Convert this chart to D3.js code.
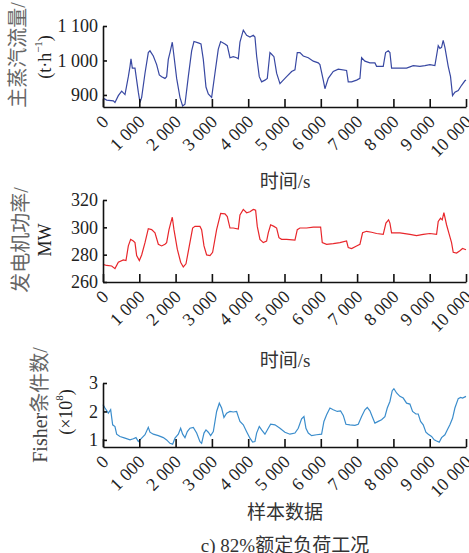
<!DOCTYPE html>
<html>
<head>
<meta charset="utf-8">
<script src="https://cdn.jsdelivr.net/npm/d3@7"></script>
<style>
  body { margin: 0; background: #fff; }
  svg text { font-family: "Liberation Serif", "Noto Sans CJK SC", serif; }
  .axis path, .axis line { stroke: #111; stroke-width: 1.6; }
  .axis text { font-size: 18px; fill: #222; }
</style>
</head>
<body>
<div id="chart-area"></div>
<script>
// time (s) / sample index -> value
const steamFlow = [[0,891],[101,885],[285,883],[330,878],[422,898],[514,911],[606,901],[698,953],[744,983],[771,1005],[808,978],[881,978],[927,943],[973,908],[1019,878],[1065,893],[1157,963],[1248,1023],[1294,1028],[1386,1013],[1478,988],[1551,958],[1616,953],[1707,948],[1753,953],[1799,1003],[1845,1023],[1909,1053],[1955,1013],[2029,948],[2120,893],[2194,868],[2258,873],[2350,953],[2442,1028],[2506,1055],[2625,1051],[2699,1048],[2763,1003],[2837,923],[2901,903],[2993,893],[3084,963],[3176,1033],[3241,1055],[3360,1048],[3424,1043],[3498,1008],[3589,1011],[3681,1008],[3727,1005],[3773,1053],[3865,1088],[3957,1073],[4048,1068],[4140,1073],[4186,1068],[4232,1013],[4305,953],[4370,938],[4461,943],[4526,948],[4599,1023],[4645,1018],[4709,1011],[4783,963],[4875,933],[4966,943],[5058,953],[5196,968],[5288,973],[5352,1023],[5425,1023],[5517,1013],[5655,1008],[5793,998],[5930,993],[5976,988],[6068,943],[6114,918],[6206,948],[6343,968],[6481,975],[6710,971],[6756,938],[6848,938],[6986,943],[7078,948],[7124,1008],[7215,998],[7353,993],[7491,993],[7537,983],[7720,983],[7785,1023],[7858,1028],[7904,1023],[7950,978],[8179,978],[8363,978],[8547,985],[8730,983],[8868,985],[9006,988],[9143,985],[9235,1043],[9281,1035],[9327,1038],[9372,1058],[9419,1038],[9510,983],[9574,953],[9629,898],[9694,908],[9786,913],[9878,928],[9969,941],[10000,943]]

const genPower = [[0,272.9],[101,272.1],[239,271.7],[330,269.8],[422,274.5],[560,276.2],[633,275.7],[698,286.4],[762,291.2],[835,290.0],[881,288.8],[927,279.3],[1001,275.7],[1065,279.8],[1157,288.8],[1248,299.0],[1340,298.3],[1432,296.0],[1524,287.6],[1616,286.4],[1707,287.6],[1753,288.8],[1818,298.3],[1864,303.1],[1909,307.4],[1955,298.3],[2047,284.0],[2139,274.5],[2212,271.0],[2286,273.3],[2378,286.4],[2469,299.5],[2534,300.7],[2671,300.7],[2717,298.3],[2782,286.4],[2855,279.8],[2947,279.3],[3020,281.7],[3130,298.3],[3241,310.2],[3360,309.8],[3424,307.9],[3498,299.5],[3589,299.5],[3727,298.8],[3773,309.0],[3865,313.1],[3957,310.7],[4048,311.4],[4140,313.1],[4204,312.6],[4250,300.7],[4324,291.2],[4416,288.8],[4507,290.0],[4553,296.0],[4618,301.9],[4709,300.7],[4783,299.5],[4847,292.4],[4920,291.2],[5058,291.2],[5288,290.7],[5352,298.3],[5425,299.5],[5609,299.5],[5793,300.2],[5995,300.2],[6040,288.8],[6160,287.6],[6343,288.1],[6527,288.8],[6710,290.0],[6756,285.2],[6848,284.5],[6986,286.4],[7078,287.6],[7151,296.0],[7261,297.1],[7399,296.4],[7537,295.5],[7720,294.8],[7794,303.1],[7867,305.5],[7904,303.1],[7950,296.0],[8179,296.0],[8455,294.8],[8638,294.0],[8822,294.8],[9006,295.5],[9189,294.8],[9235,304.3],[9299,306.7],[9345,305.5],[9391,310.7],[9464,301.9],[9538,294.8],[9602,288.8],[9648,281.7],[9740,281.2],[9832,282.9],[9905,284.5],[10000,283.6]]

const fisherCond = [[0,2.24],[55,2.12],[147,1.94],[211,2.06],[266,1.53],[330,1.47],[376,1.20],[468,1.12],[606,1.06],[744,1.00],[835,1.04],[909,1.08],[973,0.94],[1065,1.06],[1157,1.18],[1248,1.44],[1294,1.27],[1386,1.20],[1524,1.15],[1662,1.08],[1753,1.00],[1845,0.88],[1919,0.85],[1983,1.06],[2075,1.20],[2139,1.41],[2194,1.20],[2258,1.08],[2323,1.29],[2396,1.41],[2488,1.44],[2580,1.24],[2671,0.94],[2717,0.88],[2782,1.24],[2837,1.35],[2901,1.27],[2965,1.15],[3039,1.29],[3130,2.00],[3204,2.29],[3268,2.12],[3332,1.79],[3406,1.94],[3498,2.00],[3589,1.98],[3681,2.00],[3727,1.82],[3773,1.65],[3865,1.53],[3957,1.29],[4048,1.06],[4122,0.92],[4186,0.94],[4232,1.24],[4305,1.47],[4370,1.35],[4461,1.20],[4553,1.41],[4618,1.55],[4737,1.53],[4875,1.41],[5012,1.27],[5150,1.20],[5288,1.24],[5379,1.41],[5471,1.74],[5536,1.82],[5591,1.41],[5655,1.24],[5747,1.15],[5884,1.18],[6022,1.20],[6086,1.65],[6160,1.88],[6252,2.12],[6343,2.06],[6454,2.00],[6545,2.02],[6619,1.86],[6692,1.55],[6802,1.53],[6940,1.51],[7032,1.55],[7124,1.82],[7215,2.06],[7280,2.14],[7353,2.02],[7427,1.79],[7491,1.59],[7583,1.65],[7674,1.71],[7766,1.82],[7831,2.12],[7904,2.35],[7968,2.73],[8014,2.80],[8088,2.65],[8179,2.53],[8271,2.47],[8363,2.29],[8455,2.26],[8528,2.00],[8620,1.91],[8684,1.91],[8749,1.65],[8822,1.53],[8895,1.27],[8960,1.20],[9051,1.12],[9125,1.00],[9189,0.96],[9262,0.92],[9327,1.08],[9419,1.18],[9483,1.35],[9556,1.53],[9629,1.76],[9694,2.12],[9786,2.45],[9851,2.49],[9905,2.47],[10000,2.53]]

const xTicks = [0, 1000, 2000, 3000, 4000, 5000, 6000, 7000, 8000, 9000, 10000]
const flowTicks = [900, 1000, 1100]
const powerTicks = [260, 280, 300, 320]
const fisherTicks = [1, 2, 3]

const W = 469, H = 553
const X0 = 103, X1 = 466

const svg = d3.select("#chart-area").append("svg")
  .attr("width", W)
  .attr("height", H)

const x = d3.scaleLinear().domain([0, 10000]).range([X0, X1])

// thousands with a space, e.g. "1 000"
const fmt = d => d >= 1000 ? d3.format(",")(d).replace(/,/g, " ") : String(d)

function panel(data, yDomain, yRange, ticks, color) {
  const y = d3.scaleLinear().domain(yDomain).range(yRange)
  const bottom = yRange[0]

  svg.append("path")
    .datum(data)
    .attr("fill", "none")
    .attr("stroke", color)
    .attr("stroke-width", 1.2)
    .attr("d", d3.line().x(d => x(d[0])).y(d => y(d[1])))

  const xAxisCall = d3.axisBottom(x).tickValues(xTicks).tickFormat(fmt)
    .tickSizeInner(-8).tickSizeOuter(0)
  svg.append("g")
    .attr("class", "axis")
    .attr("transform", `translate(0, ${bottom})`)
    .call(xAxisCall)
    .selectAll("text")
      .attr("x", 0).attr("y", 0).attr("dy", 0)
      .attr("transform", "translate(6, 16) rotate(-45)")
      .style("text-anchor", "end")

  const yAxisCall = d3.axisLeft(y).tickValues(ticks).tickFormat(fmt)
    .tickSizeInner(-4).tickSizeOuter(0).tickPadding(5)
  svg.append("g")
    .attr("class", "axis")
    .attr("transform", `translate(${X0}, 0)`)
    .call(yAxisCall)
}

panel(steamFlow, [865, 1100], [107, 26], flowTicks, "#3848a2")
panel(genPower, [260, 320], [282, 200], powerTicks, "#e8262b")
panel(fisherCond, [0.75, 3], [447, 383], fisherTicks, "#3b8dcc")

// y labels (rotated)
function yLabel(cx, cy, size, color) {
  return svg.append("text")
    .attr("transform", `translate(${cx}, ${cy}) rotate(-90)`)
    .attr("text-anchor", "middle")
    .attr("dominant-baseline", "central")
    .attr("font-size", size)
    .attr("fill", color)
}

yLabel(18, 55, "20px", "#666").text("主蒸汽流量/")
const u1 = yLabel(45, 57, "18px", "#222")
u1.append("tspan").text("(t·h")
u1.append("tspan").attr("font-size", "11px").attr("dy", "-7").text("−1")
u1.append("tspan").attr("dy", "7").text(")")

yLabel(21, 240, "20px", "#666").text("发电机功率/")
yLabel(45, 240, "18px", "#222").text("MW")

const f1 = yLabel(40, 405, "20px", "#444")
f1.append("tspan").text("Fisher")
f1.append("tspan").attr("fill", "#666").text("条件数/")
const f2 = yLabel(66, 412, "18px", "#222")
f2.append("tspan").text("(×10")
f2.append("tspan").attr("font-size", "11px").attr("dy", "-7").text("8")
f2.append("tspan").attr("dy", "7").text(")")

// x labels and caption
function xLabel(cy, txt) {
  svg.append("text")
    .attr("x", 285)
    .attr("y", cy)
    .attr("text-anchor", "middle")
    .attr("dominant-baseline", "central")
    .attr("font-size", "19px")
    .attr("fill", "#333")
    .text(txt)
}
xLabel(181, "时间/s")
xLabel(360, "时间/s")
xLabel(512, "样本数据")
xLabel(545, "c) 82%额定负荷工况")
</script>
</body>
</html>
